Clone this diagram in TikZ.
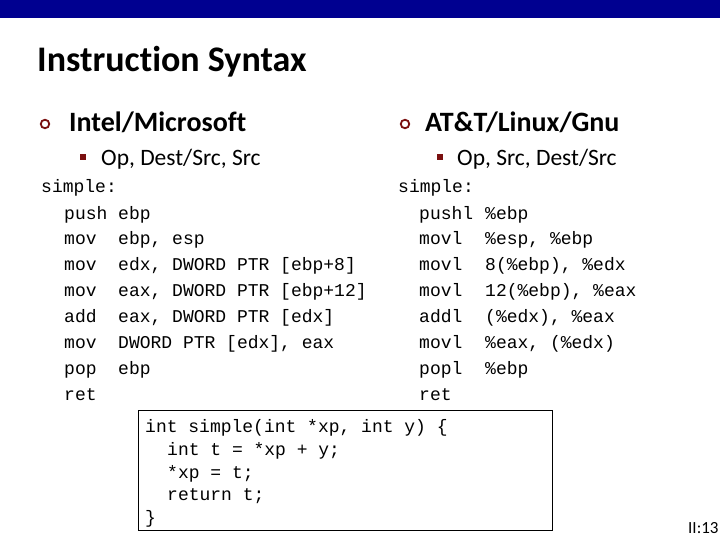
\documentclass[tikz,border=0pt]{standalone}
\usepackage{fontspec}
\setmainfont[Ligatures=CommonOff]{Carlito}
\newfontfamily\cour{Liberation Mono}
\definecolor{barblue}{HTML}{000090}
\definecolor{bulred}{HTML}{7A1010}
\begin{document}
\begin{tikzpicture}[x=1pt,y=-1pt,
  code/.style={anchor=base west,inner sep=0pt,font=\cour\fontsize{18}{18}\selectfont},
  head/.style={anchor=base west,inner sep=0pt,font=\bfseries\fontsize{28}{28}\selectfont},
  sub/.style={anchor=base west,inner sep=0pt,font=\fontsize{23.5}{23.5}\selectfont},
  circ/.style={circle,draw=bulred,line width=1.8pt,inner sep=0pt,minimum size=8.5pt},
  sq/.style={fill=bulred,inner sep=0pt,minimum size=6.5pt}]
\useasboundingbox (0,0) rectangle (720,540);
\fill[white] (0,0) rectangle (720,540);
\fill[barblue] (0,0) rectangle (720,18);
\node[anchor=base west,inner sep=0pt,font=\bfseries\fontsize{36}{36}\selectfont] (title) at (37,72) {Instruction Syntax};
\node[circ] (c1) at (45,124) {};
\node[head] (h1) at (69,132) {Intel/Microsoft};
\node[sq] (s1) at (83,157) {};
\node[sub] (t1) at (101,166) {Op, Dest/Src, Src};
\node[circ] (c2) at (405,124) {};
\node[head] (h2) at (425,132) {AT\&T/Linux/Gnu};
\node[sq] (s2) at (440,157) {};
\node[sub] (t2) at (457,166) {Op, Src, Dest/Src};
% left code
\node[code] (ls) at (41,193) {simple:};
\foreach \i/\op/\arg in {0/push/ebp,1/mov/{ebp, esp},2/mov/{edx, DWORD PTR [ebp+8]},3/mov/{eax, DWORD PTR [ebp+12]},4/add/{eax, DWORD PTR [edx]},5/mov/{DWORD PTR [edx], eax},6/pop/ebp,7/ret/{}}{
  \node[code] (lo\i) at (64,219+25.9*\i) {\op};
  \node[code] (la\i) at (118,219+25.9*\i) {\arg};
}
% right code
\node[code] (rs) at (398,193) {simple:};
\foreach \i/\op/\arg in {0/pushl/\%ebp,1/movl/{\%esp, \%ebp},2/movl/{8(\%ebp), \%edx},3/movl/{12(\%ebp), \%eax},4/addl/{(\%edx), \%eax},5/movl/{\%eax, (\%edx)},6/popl/\%ebp,7/ret/{}}{
  \node[code] (ro\i) at (419,219+25.9*\i) {\op};
  \node[code] (ra\i) at (485,219+25.9*\i) {\arg};
}
% C box
\draw[line width=0.8pt] (138,410) rectangle (552,530);
\node[code] (k0) at (145,432) {int simple(int *xp, int y) \{};
\node[code] (k1) at (167,455) {int t = *xp + y;};
\node[code] (k2) at (167,478) {*xp = t;};
\node[code] (k3) at (167,500) {return t;};
\node[code] (k4) at (145,523) {\}};
\node[anchor=base west,inner sep=0pt,font=\fontsize{17}{17}\selectfont] (pg) at (688,533) {II:13};
\end{tikzpicture}
\end{document}
